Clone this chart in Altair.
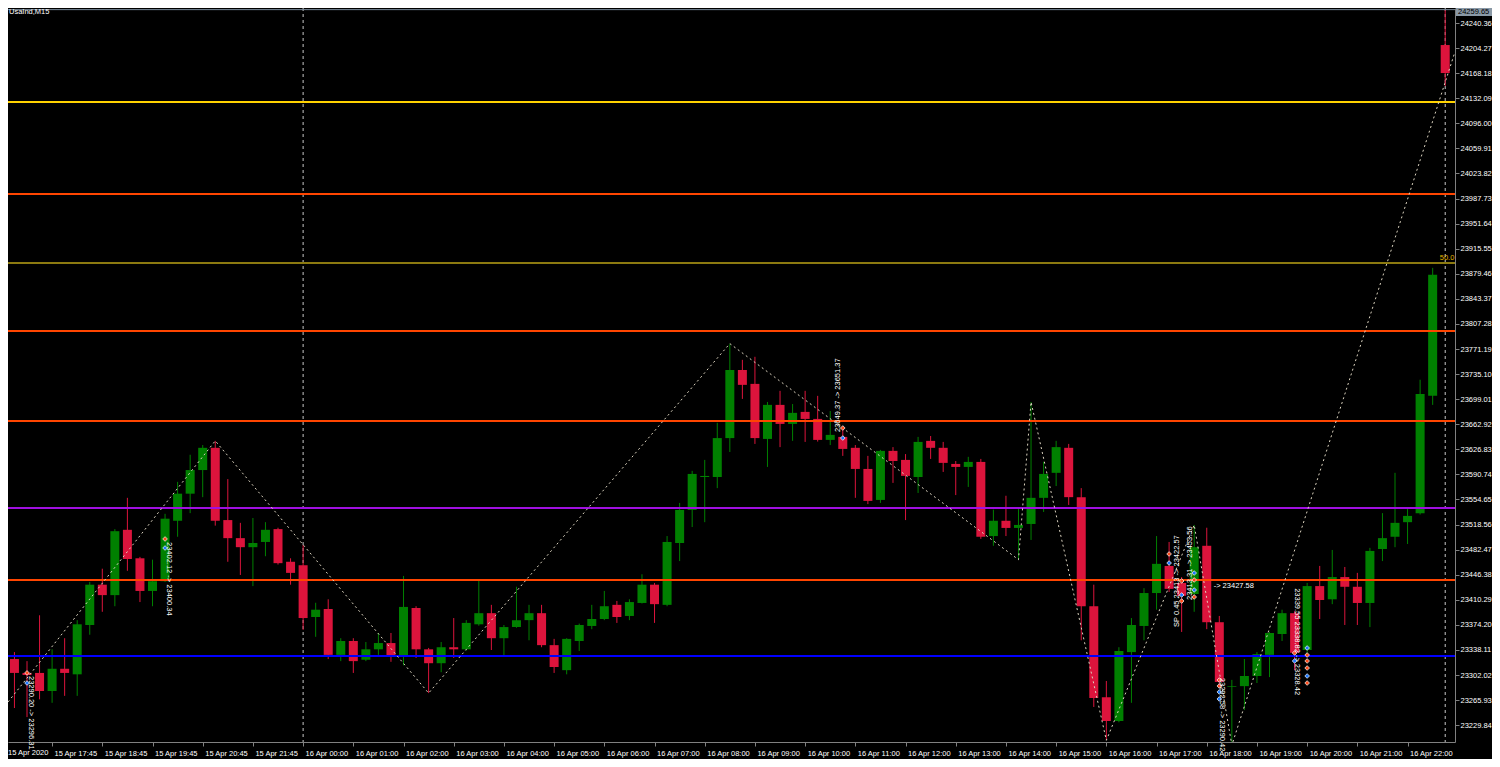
import altair as alt
import pandas as pd

# ---------------- data ----------------
opens = [23302, 23325, 23305, 23305, 23279, 23311, 23303, 23374, 23432, 23417,
         23511, 23470, 23423, 23437, 23524, 23563, 23597, 23629, 23525, 23499,
         23486, 23493.5, 23512, 23465, 23460, 23385.5, 23397, 23331, 23351, 23324,
         23339, 23348, 23329, 23398.5, 23339, 23319, 23342, 23339, 23375, 23391,
         23355, 23371, 23381, 23391, 23345, 23309, 23351, 23372.6, 23382.6, 23403,
         23387, 23405.7, 23432, 23403, 23492, 23539.6, 23587, 23587, 23643, 23741,
         23721, 23641.8, 23690.8, 23663.4, 23680.7, 23670.6, 23640.4, 23644.7, 23629, 23598.6,
         23554, 23624.6, 23611.6, 23587, 23639, 23629, 23605.8, 23601.5, 23608.7, 23502,
         23524, 23513.7, 23519.4, 23557, 23593, 23629, 23558, 23401, 23270, 23235.8,
         23335, 23372.6, 23420, 23459, 23434.5, 23418.6, 23488, 23378, 23285, 23286,
         23300.6, 23331, 23361, 23391, 23338, 23430, 23411, 23443, 23429, 23405.7,
         23483.4, 23501, 23522, 23535, 23703.8, 24208.7]
highs = [23345, 23335, 23322, 23388, 23339, 23355, 23381, 23436, 23455, 23512,
         23557, 23472, 23468, 23534, 23580, 23619, 23633, 23639, 23584, 23521,
         23528, 23522, 23514, 23470, 23489, 23406, 23411, 23355, 23355, 23349.5,
         23362.5, 23362.5, 23444.6, 23401, 23341, 23349.5, 23384, 23381, 23440, 23403,
         23374, 23429, 23403, 23403, 23354, 23355, 23376, 23403, 23423, 23408.6,
         23411, 23447, 23434.5, 23502, 23549.7, 23595.8, 23611.6, 23665, 23778.6, 23755.6,
         23760, 23695, 23711, 23692, 23711, 23703.8, 23682, 23654.8, 23633, 23617.4,
         23626, 23630, 23620, 23644.7, 23646, 23637.5, 23610, 23616, 23613, 23540,
         23560, 23541, 23695, 23608.7, 23639, 23634.6, 23571, 23432, 23293.4, 23342,
         23384, 23427, 23502, 23493.5, 23443, 23518, 23514, 23387, 23295, 23325,
         23335, 23364, 23396, 23394, 23434.5, 23459, 23482, 23457.5, 23449, 23485,
         23535, 23593, 23542.5, 23727, 23888, 24259.65]
lows = [23295, 23254.5, 23241.5, 23267, 23262, 23272, 23272, 23360, 23393, 23401,
        23452, 23407, 23401, 23436, 23501, 23535, 23558, 23517, 23465, 23446,
        23430, 23473, 23461, 23432, 23367, 23357, 23325, 23322, 23305, 23322,
        23331, 23321, 23316, 23326.5, 23276, 23306, 23326.5, 23337, 23373, 23338,
        23328, 23370, 23352, 23342, 23305, 23303, 23336.6, 23368, 23381, 23377,
        23381, 23405, 23377, 23401, 23466, 23515, 23522, 23571, 23623, 23699.4,
        23634.6, 23601.5, 23630, 23639, 23637.5, 23638, 23633, 23617.4, 23557, 23548,
        23549.7, 23578.5, 23525, 23564, 23613, 23594.3, 23561, 23572.7, 23498, 23488,
        23502, 23467.6, 23496.4, 23536.7, 23574, 23546.8, 23352, 23256, 23208.4, 23234,
        23262, 23352, 23396, 23421.5, 23364, 23393, 23368, 23285, 23201, 23251.6,
        23290.5, 23299, 23351, 23309, 23334, 23382.6, 23404, 23374, 23374, 23371,
        23466, 23486, 23490.6, 23533, 23690.8, 24149.7]
closes = [23334, 23305, 23302, 23279, 23311, 23305, 23375, 23432, 23417, 23509,
          23469, 23423, 23437, 23527, 23563, 23597, 23629, 23524, 23499, 23486,
          23492, 23511, 23463, 23449, 23384, 23396, 23331, 23351, 23322, 23339,
          23348, 23329, 23400, 23339, 23319, 23342, 23339, 23377, 23391, 23355,
          23371, 23381, 23391, 23345, 23313.5, 23354, 23374, 23382.6, 23401, 23385.5,
          23407, 23432, 23404, 23493.5, 23539.6, 23591.4, 23588.5, 23643, 23741, 23719.6,
          23643, 23690.8, 23663.4, 23679.3, 23670.6, 23640.4, 23647.6, 23627.4, 23598.6, 23552.6,
          23624.6, 23610, 23588.6, 23637.5, 23629, 23607.3, 23601.5, 23608.7, 23501, 23524,
          23513.7, 23518, 23557, 23591.4, 23630, 23558, 23401, 23269, 23235.8, 23336.6,
          23374, 23420, 23462, 23426, 23416, 23486, 23378, 23292, 23286, 23300.6,
          23332, 23362.5, 23391, 23334, 23430, 23410, 23443, 23429, 23405.7, 23480.6,
          23499, 23521, 23531, 23706.6, 23878, 24168.4]

level_prices = [24126.7, 23994.3, 23895.0, 23797.0, 23667.6, 23542.4, 23438.8, 23329.4]
level_colors = ["#FFD200", "#FF4500", "#8C7A10", "#FF4500", "#FF4500", "#A010E0", "#FF4500", "#0000FF"]

zz_idx = [0, 17, 34, 58, 81, 82, 88, 95, 98, 115.78]
zz_price = [23252, 23639, 23276, 23779, 23468, 23695, 23208, 23518, 23201, 24199]

sep_idx = [24, 115]

y_ticks = [23229.84, 23265.93, 23302.02, 23338.11, 23374.20, 23410.29, 23446.38, 23482.47,
           23518.56, 23554.65, 23590.74, 23626.83, 23662.92, 23699.01, 23735.10, 23771.19,
           23807.28, 23843.37, 23879.46, 23915.55, 23951.64, 23987.73, 24023.82, 24059.91,
           24096.00, 24132.09, 24168.18, 24204.27, 24240.36]

x_tick_idx = [4, 8, 12, 16, 20, 24, 28, 32, 36, 40, 44, 48, 52, 56, 60, 64, 68, 72, 76,
              80, 84, 88, 92, 96, 100, 104, 108, 112]
x_tick_labels = ["15 Apr 17:45", "15 Apr 18:45", "15 Apr 19:45", "15 Apr 20:45", "15 Apr 21:45",
                 "16 Apr 00:00", "16 Apr 01:00", "16 Apr 02:00", "16 Apr 03:00", "16 Apr 04:00",
                 "16 Apr 05:00", "16 Apr 06:00", "16 Apr 07:00", "16 Apr 08:00", "16 Apr 09:00",
                 "16 Apr 10:00", "16 Apr 11:00", "16 Apr 12:00", "16 Apr 13:00", "16 Apr 14:00",
                 "16 Apr 15:00", "16 Apr 16:00", "16 Apr 17:00", "16 Apr 18:00", "16 Apr 19:00",
                 "16 Apr 20:00", "16 Apr 21:00", "16 Apr 22:00"]
first_label = "15 Apr 2020"

ann_idx = [2.28, 13.3, 66.6, 96.55, 93.6, 94.7, 103.2, 97.2]
ann_price = [23300.6, 23493.5, 23651.8, 23430.0, 23371.0, 23410.0, 23427.0, 23298.0]
ann_text = ["23290.20 -> 23296.31", "23402.12 -> 23400.34", "23649.37 -> 23651.37",
            "-> 23427.58", "SP 0.45 23413 -> 23422.57", "23413.31 -> 23453.56",
            "23339.55 23338.82 -> 23328.42", "23292.58 -> 23290.42"]
ann_angle = [90, 90, 270, 0, 270, 270, 90, 90]

mk_idx = [2, 2, 13, 13, 67, 67, 93, 93, 94, 94, 94, 95, 95, 95, 95, 97, 97, 97, 97,
          103, 103, 104, 104, 104, 104, 104, 104]
mk_price = [23305, 23290.5, 23497.8, 23484.8, 23657.5, 23643.1, 23476.2, 23463.2,
            23437.3, 23417.2, 23408.5, 23448.8, 23438.8, 23424.4, 23414.3,
            23294.8, 23286.2, 23277.6, 23267.5, 23333.7, 23322.2,
            23340.9, 23330.8, 23322.2, 23312.1, 23300.6, 23290.5]
mk_kind = ["s", "b", "s", "b", "s", "b", "s", "b", "s", "b", "s", "b", "s", "b", "s",
           "s", "s", "b", "b", "s", "b", "b", "s", "s", "s", "b", "s"]

title_text = "UsaInd,M15"
bid_price = 24259.65
fib_label = "50.0"
fib_price = 23895.0

# ---------------- styling ----------------
BULL = "#008000"
BEAR = "#DC143C"
FONT = "Liberation Sans"
FS = 7.5
W, H = 1447, 734
PR = 37
X0, X1 = 0.486, 115.78
Y0, Y1 = 23205.6, 24262.0

xs = alt.Scale(domain=[X0, X1], nice=False, zero=False, padding=0)
ys = alt.Scale(domain=[Y0, Y1], nice=False, zero=False, padding=0)

lab_expr = "[" + ",".join("'%s'" % s for s in x_tick_labels) + "][indexof([" + \
    ",".join(str(v) for v in x_tick_idx) + "], datum.value)]"

XAX = alt.Axis(values=x_tick_idx, labelExpr=lab_expr, title=None, grid=False,
               labelAlign="left", labelBaseline="top", labelOffset=2, labelPadding=3,
               tickSize=4, tickColor="#808080", domainColor="#808080", labelColor="#FFFFFF",
               labelFont=FONT, labelFontSize=FS, labelOverlap=False, labelFlush=False,
               labelBound=False, orient="bottom")
YAX = alt.Axis(values=y_ticks, format=".2f", title=None, grid=False, orient="right",
               tickSize=4, tickColor="#808080", domainColor="#808080", labelColor="#FFFFFF",
               labelFont=FONT, labelFontSize=FS, labelPadding=1, labelOverlap=False,
               labelFlush=False, labelBound=False)


def X(f):
    return alt.X(f, type="quantitative", scale=xs, axis=XAX)


def Y(f):
    return alt.Y(f, type="quantitative", scale=ys, axis=YAX)


df = pd.DataFrame({"i": list(range(len(opens))), "o": opens, "h": highs, "l": lows, "c": closes})
df["col"] = [BULL if c >= o else BEAR for o, c in zip(opens, closes)]

lev_df = pd.DataFrame({"p": level_prices, "col": level_colors})
zz_df = pd.DataFrame({"i": zz_idx, "p": zz_price})
sep_df = pd.DataFrame({"i": sep_idx})
ann_df = pd.DataFrame({"i": ann_idx, "p": ann_price, "t": ann_text, "a": ann_angle})
mk_df = pd.DataFrame({"i": mk_idx, "p": mk_price,
                      "col": ["#FF4A1A" if k == "s" else "#1E78FF" for k in mk_kind]})

seps = alt.Chart(sep_df).mark_rule(color="#C8C8C8", strokeDash=[3, 3], strokeWidth=1, clip=True).encode(
    x=X("i"))

wicks = alt.Chart(df).mark_rule(strokeWidth=1, clip=True).encode(
    x=X("i"), y=Y("l"), y2="h:Q", color=alt.Color("col:N", scale=None))

bodies = alt.Chart(df).mark_bar(size=9, clip=True).encode(
    x=X("i"), y=Y("o"), y2="c:Q", color=alt.Color("col:N", scale=None))

levels = alt.Chart(lev_df).mark_rule(strokeWidth=2, clip=True).encode(
    y=Y("p"), color=alt.Color("col:N", scale=None))

bid = alt.Chart(pd.DataFrame({"p": [bid_price]})).mark_rule(color="#778899", strokeWidth=1, clip=True).encode(
    y=Y("p"))

zigzag = alt.Chart(zz_df).mark_line(color="#DCD4C0", strokeDash=[2, 3], strokeWidth=1, clip=True).encode(
    x=X("i"), y=Y("p"))

markers = alt.Chart(mk_df).mark_point(shape="diamond", filled=True, size=22, stroke="#FFFFFF",
                                      strokeWidth=0.7, opacity=1, clip=True).encode(
    x=X("i"), y=Y("p"), color=alt.Color("col:N", scale=None))

anns = alt.Chart(ann_df).mark_text(align="left", baseline="middle", color="#FFFFFF",
                                   font=FONT, fontSize=FS).encode(
    x=X("i"), y=Y("p"), text="t:N", angle=alt.Angle("a:Q", scale=None))

fib = alt.Chart(pd.DataFrame({"i": [X1 - 0.05], "p": [fib_price], "t": [fib_label]})).mark_text(
    align="right", baseline="bottom", dy=-1, color="#E0B000", font=FONT, fontSize=FS).encode(
    x=X("i"), y=Y("p"), text="t:N")

title = alt.Chart(pd.DataFrame({"t": [title_text]})).mark_text(
    align="left", baseline="top", color="#FFFFFF", font=FONT, fontSize=FS).encode(
    x=alt.value(1), y=alt.value(0), text="t:N")

# price tag for the bid line, kept inside the top edge of the drawing
tag_df = pd.DataFrame({"hi": [Y1], "lo": [Y1 - 11.5], "mid": [Y1 - 5.75],
                       "t": ["%.2f" % bid_price]})
tag_rect = alt.Chart(tag_df).mark_rect(color="#8A99A6").encode(
    x=alt.value(W + 1), x2=alt.value(W + PR), y=Y("hi"), y2="lo:Q")
tag_text = alt.Chart(tag_df).mark_text(align="left", baseline="middle", color="#000000",
                                       font=FONT, fontSize=FS).encode(
    x=alt.value(W + 3), y=Y("mid"), text="t:N")

first = alt.Chart(pd.DataFrame({"t": [first_label]})).mark_text(
    align="left", baseline="top", color="#FFFFFF", font=FONT, fontSize=FS).encode(
    x=alt.value(0), y=alt.value(H + 7), text="t:N")

chart = alt.layer(seps, wicks, bodies, levels, bid, zigzag, markers, anns, fib, title,
                  tag_rect, tag_text, first).properties(
    width=W, height=H,
    autosize=alt.AutoSizeParams(type="none"),
    padding={"left": 0, "top": 0, "right": PR, "bottom": 17},
    background="#000000",
).configure_view(stroke=None)

chart.save("out.html", embed_options={"renderer": "svg", "actions": False})
